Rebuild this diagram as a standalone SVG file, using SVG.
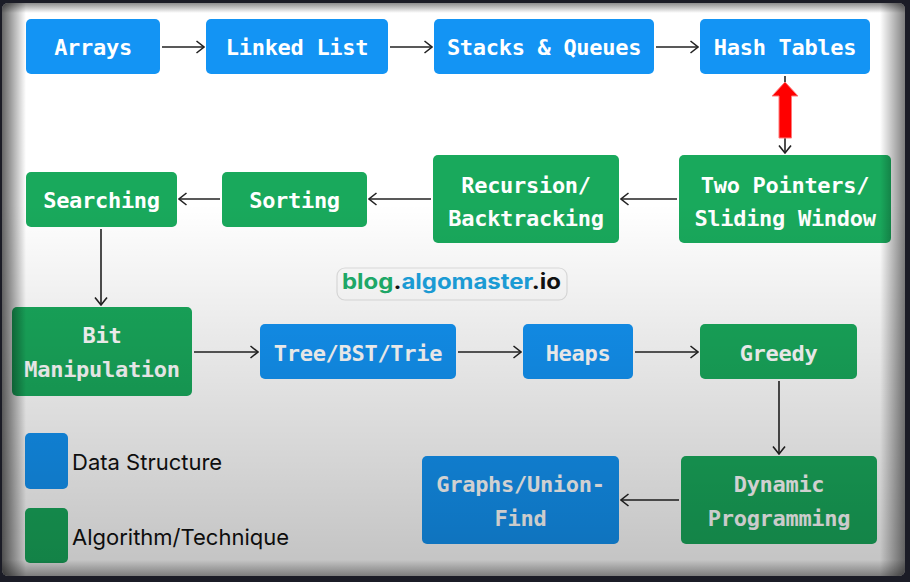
<svg xmlns="http://www.w3.org/2000/svg" width="910" height="582" viewBox="0 0 910 582">
  <style>
    .ds { fill: #1394f4; }
    .al { fill: #19a95c; }
    .lbl { font-family: "DejaVu Sans Mono", "Liberation Mono", monospace; font-weight: bold; font-size: 22px; letter-spacing: -0.3px; fill: #ffffff; text-anchor: middle; }
    .conn { stroke: #222222; stroke-width: 1.6; fill: none; marker-end: url(#arr); }
    .legend { font-family: Inter, "Liberation Sans", sans-serif; font-size: 22px; fill: #111111; }
  </style>
  <defs>
    <marker id="arr" viewBox="0 0 10 14" refX="9" refY="7" markerWidth="10" markerHeight="14" markerUnits="userSpaceOnUse" orient="auto">
      <path d="M1.5,1 L9,7 L1.5,13" stroke="#222222" stroke-width="1.6" fill="none"/>
    </marker>
    <linearGradient id="edgeL" x1="0" y1="0" x2="1" y2="0">
      <stop offset="0" stop-color="#000" stop-opacity="0.6"/>
      <stop offset="1" stop-color="#000" stop-opacity="0"/>
    </linearGradient>
    <linearGradient id="edgeR" x1="0" y1="0" x2="1" y2="0">
      <stop offset="0" stop-color="#000" stop-opacity="0"/>
      <stop offset="1" stop-color="#000" stop-opacity="0.5"/>
    </linearGradient>
    <linearGradient id="edgeT" x1="0" y1="0" x2="0" y2="1">
      <stop offset="0" stop-color="#000" stop-opacity="0.45"/>
      <stop offset="1" stop-color="#000" stop-opacity="0"/>
    </linearGradient>
    <linearGradient id="edgeB" x1="0" y1="0" x2="0" y2="1">
      <stop offset="0" stop-color="#000" stop-opacity="0"/>
      <stop offset="1" stop-color="#000" stop-opacity="0.35"/>
    </linearGradient>
    <linearGradient id="shade" x1="0" y1="0" x2="0" y2="1">
      <stop offset="0" stop-color="#000" stop-opacity="0"/>
      <stop offset="0.35" stop-color="#000" stop-opacity="0"/>
      <stop offset="1" stop-color="#000" stop-opacity="0.24"/>
    </linearGradient>
    <clipPath id="panel">
      <rect x="2" y="3" width="903" height="573" rx="6"/>
    </clipPath>
  </defs>

  <!-- frame and panel -->
  <rect x="0" y="0" width="910" height="582" fill="#1b1c26"/>
  <rect x="2" y="3" width="903" height="573" rx="6" fill="#ffffff"/>

  <!-- legend -->
  <g id="legend">
    <rect class="ds" x="25" y="433" width="43" height="56" rx="5"/>
    <text class="legend" x="72" y="470">Data Structure</text>
    <rect class="al" x="25" y="508" width="43" height="55" rx="5"/>
    <text class="legend" x="72" y="545">Algorithm/Technique</text>
  </g>

  <!-- site badge -->
  <g id="badge">
    <rect x="337" y="268" width="230" height="32" rx="8" fill="#ffffff" stroke="#e2e2e2" stroke-width="1.2"/>
    <text x="342" y="289" font-family="Inter, 'Liberation Sans', sans-serif" font-weight="bold" font-size="21" textLength="219" lengthAdjust="spacingAndGlyphs"><tspan fill="#20b06c">blog</tspan><tspan fill="#111">.</tspan><tspan fill="#1ca3df">algomaster</tspan><tspan fill="#111">.io</tspan></text>
  </g>

  <!-- connectors -->
  <g id="connectors">
    <line class="conn" x1="162" y1="47" x2="204" y2="47"/>
    <line class="conn" x1="390" y1="47" x2="432" y2="47"/>
    <line class="conn" x1="656" y1="47" x2="698" y2="47"/>
    <line class="conn" x1="785" y1="76" x2="785" y2="153"/>
    <line class="conn" x1="677" y1="199" x2="621" y2="199"/>
    <line class="conn" x1="431" y1="199" x2="369" y2="199"/>
    <line class="conn" x1="220" y1="199" x2="179" y2="199"/>
    <line class="conn" x1="101" y1="229" x2="101" y2="305"/>
    <line class="conn" x1="194" y1="352" x2="258" y2="352"/>
    <line class="conn" x1="458" y1="352" x2="521" y2="352"/>
    <line class="conn" x1="635" y1="352" x2="698" y2="352"/>
    <line class="conn" x1="779" y1="381" x2="779" y2="454"/>
    <line class="conn" x1="679" y1="500" x2="621" y2="500"/>
    <!-- highlight arrow -->
    <polygon points="785,82 798,96 791.5,96 791.5,138 779,138 779,96 772,96" fill="#ff0000" stroke="#ff7a7a" stroke-width="1"/>
  </g>

  <!-- nodes -->
  <g id="arrays">
    <rect class="ds" x="26" y="19" width="134" height="55" rx="5"/>
    <text class="lbl" x="93" y="55">Arrays</text>
  </g>
  <g id="linked-list">
    <rect class="ds" x="206" y="19" width="182" height="55" rx="5"/>
    <text class="lbl" x="297" y="55">Linked List</text>
  </g>
  <g id="stacks-queues">
    <rect class="ds" x="434" y="19" width="220" height="55" rx="5"/>
    <text class="lbl" x="544" y="55">Stacks &amp; Queues</text>
  </g>
  <g id="hash-tables">
    <rect class="ds" x="700" y="19" width="170" height="55" rx="5"/>
    <text class="lbl" x="785" y="55">Hash Tables</text>
  </g>
  <g id="two-pointers">
    <rect class="al" x="679" y="155" width="212" height="88" rx="5"/>
    <text class="lbl" x="785" y="193">Two Pointers/</text>
    <text class="lbl" x="785" y="226">Sliding Window</text>
  </g>
  <g id="recursion">
    <rect class="al" x="433" y="155" width="186" height="88" rx="5"/>
    <text class="lbl" x="526" y="193">Recursion/</text>
    <text class="lbl" x="526" y="226">Backtracking</text>
  </g>
  <g id="sorting">
    <rect class="al" x="222" y="172" width="145" height="55" rx="5"/>
    <text class="lbl" x="294.5" y="208">Sorting</text>
  </g>
  <g id="searching">
    <rect class="al" x="26" y="172" width="151" height="55" rx="5"/>
    <text class="lbl" x="101.5" y="208">Searching</text>
  </g>
  <g id="bit-manipulation">
    <rect class="al" x="12" y="307" width="180" height="89" rx="5"/>
    <text class="lbl" x="102" y="343">Bit</text>
    <text class="lbl" x="102" y="377">Manipulation</text>
  </g>
  <g id="tree-bst-trie">
    <rect class="ds" x="260" y="324" width="196" height="55" rx="5"/>
    <text class="lbl" x="358" y="361">Tree/BST/Trie</text>
  </g>
  <g id="heaps">
    <rect class="ds" x="523" y="324" width="110" height="55" rx="5"/>
    <text class="lbl" x="578" y="361">Heaps</text>
  </g>
  <g id="greedy">
    <rect class="al" x="700" y="324" width="157" height="55" rx="5"/>
    <text class="lbl" x="778.5" y="361">Greedy</text>
  </g>
  <g id="dynamic-programming">
    <rect class="al" x="681" y="456" width="196" height="88" rx="5"/>
    <text class="lbl" x="779" y="492">Dynamic</text>
    <text class="lbl" x="779" y="526">Programming</text>
  </g>
  <g id="graphs-union-find">
    <rect class="ds" x="422" y="456" width="197" height="88" rx="5"/>
    <text class="lbl" x="520.5" y="492">Graphs/Union-</text>
    <text class="lbl" x="520.5" y="526">Find</text>
  </g>

  <!-- panel shading and bevelled edges -->
  <g clip-path="url(#panel)" pointer-events="none">
    <rect x="2" y="3" width="903" height="573" fill="url(#shade)"/>
    <rect x="2" y="3" width="24" height="573" fill="url(#edgeL)"/>
    <rect x="880" y="3" width="25" height="573" fill="url(#edgeR)"/>
    <rect x="2" y="3" width="903" height="10" fill="url(#edgeT)"/>
    <rect x="2" y="560" width="903" height="16" fill="url(#edgeB)"/>
  </g>
</svg>
